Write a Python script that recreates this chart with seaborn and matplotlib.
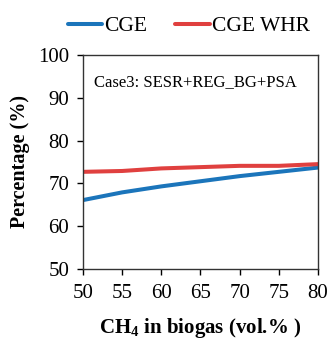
import matplotlib
matplotlib.use("Agg")
import matplotlib.pyplot as plt
import seaborn as sns
import pandas as pd

ch4 = [50, 55, 60, 65, 70, 75, 80]
cge = [66.1, 67.9, 69.3, 70.5, 71.7, 72.7, 73.7]
cge_whr = [72.7, 72.9, 73.5, 73.8, 74.1, 74.1, 74.5]
series_names = ["CGE", "CGE WHR"]
colors = ["#1b75bb", "#e0403f"]

df = pd.DataFrame({
    "ch4": ch4 * 2,
    "value": cge + cge_whr,
    "series": [series_names[0]] * len(ch4) + [series_names[1]] * len(ch4),
})

sns.set_style("ticks")
plt.rcParams["font.family"] = ["Liberation Serif", "DejaVu Serif"]
plt.rcParams["mathtext.fontset"] = "custom"
plt.rcParams["mathtext.rm"] = "Liberation Serif"
plt.rcParams["mathtext.bf"] = "Liberation Serif:bold"
plt.rcParams["text.color"] = "black"
plt.rcParams["axes.labelcolor"] = "black"

fig = plt.figure(figsize=(3.3, 3.39), dpi=100)
ax = fig.add_axes([0.2515, 0.2065, 0.7121, 0.6313])

sns.lineplot(data=df, x="ch4", y="value", hue="series", palette=colors,
             linewidth=2.9, ax=ax, legend=True)

ax.set_xlim(50, 80)
ax.set_ylim(50, 100)
ax.set_xticks(ch4)
ax.set_yticks([50, 60, 70, 80, 90, 100])
ax.tick_params(direction="out", length=4, width=1, labelsize=15, colors="black")
ax.tick_params(axis="y", pad=6)
ax.tick_params(axis="x", pad=7)
for s in ax.spines.values():
    s.set_visible(True)
    s.set_linewidth(1)
    s.set_color("#333333")

ax.set_xlabel(r"CH$_\mathbf{4}$ in biogas (vol.% )", fontsize=15, fontweight="bold", labelpad=9)
ax.set_ylabel("Percentage (%)", fontsize=14.5, fontweight="bold", labelpad=6)

ax.text(0.045, 0.875, "Case3: SESR+REG_BG+PSA", transform=ax.transAxes,
        fontsize=12, ha="left", va="center")

handles, labels = ax.get_legend_handles_labels()
ax.legend(handles, labels, loc="center", bbox_to_anchor=(0.45, 1.135), ncol=2,
          frameon=False, fontsize=15.5, handlelength=1.6, handletextpad=0.1,
          columnspacing=1.3, borderaxespad=0, borderpad=0)

fig.savefig("out.png", dpi=100)
